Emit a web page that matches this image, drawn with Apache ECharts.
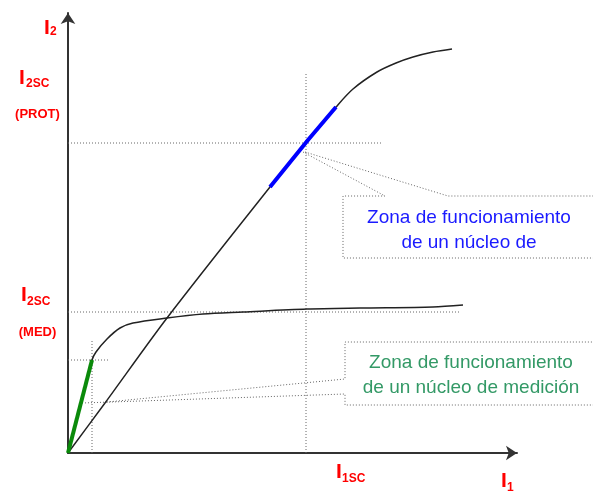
<!DOCTYPE html>
<html>
<head>
<meta charset="utf-8">
<script src="https://cdn.jsdelivr.net/npm/echarts@6/dist/echarts.min.js"></script>
<style>
  html, body { margin: 0; padding: 0; background: #fff; }
  #chart { width: 593px; height: 493px; }
</style>
</head>
<body>
<div id="chart"></div>
<script>
// curves (I1 horizontal, I2 vertical, arbitrary units)
const protCurve = [[0, 0], [37, 50], [99, 135], [202, 266], [240, 313], [268, 346],
  [285, 364], [309, 381], [328, 390], [345, 396], [365, 401], [384, 404]];
const protZone = [[202, 266], [240, 313], [268, 346]];
const measCurve = [[0, 0], [24, 93], [28, 101], [39, 114], [52, 125], [65, 130],
  [99, 135], [135, 139], [175, 141], [239, 144], [292, 145], [365, 146], [395, 148]];
const measZone = [[0, 0], [24, 93]];

// dotted guides
const guides = [
  [[0, 310], [315, 310]],
  [[238, 0], [238, 381]],
  [[0, 141], [392, 141]],
  [[0, 93], [40, 93]],
  [[24, 0], [24, 113]]
];
// callout boxes and leaders
const callouts = [
  [[235, 301], [317, 257], [275, 257], [275, 195], [525, 195]],
  [[237, 301], [380, 257], [525, 257]],
  [[39, 51], [277, 74], [277, 111], [525, 111]],
  [[14, 50], [277, 59], [277, 48], [525, 48]]
];

const protText = ['Zona de funcionamiento', 'de un núcleo de'];
const measText = ['Zona de funcionamiento', 'de un núcleo de medición'];

const chart = echarts.init(document.getElementById('chart'));

const dotted = { color: '#666', width: 1, type: [1, 2] };
const onPlot = { xAxisIndex: 1, yAxisIndex: 1, showSymbol: false, silent: true };
const series = [];
guides.concat(callouts).forEach(seg => {
  series.push(Object.assign({ type: 'line', data: seg, lineStyle: dotted }, onPlot));
});
series.push(Object.assign({ type: 'line', data: protCurve, smooth: 0.3,
  lineStyle: { color: '#222', width: 1.5 } }, onPlot));
series.push(Object.assign({ type: 'line', data: measCurve, smooth: 0.3,
  lineStyle: { color: '#222', width: 1.5 } }, onPlot));
series.push(Object.assign({ type: 'line', data: protZone,
  lineStyle: { color: '#0000ff', width: 4 } }, onPlot));
series.push(Object.assign({ type: 'line', data: measZone,
  lineStyle: { color: '#0a8a0a', width: 4 } }, onPlot));

const axisBase = {
  type: 'value', min: 0,
  axisLine: { show: true, symbol: ['none', 'arrow'], symbolSize: [11, 11],
    lineStyle: { color: '#333', width: 2 } },
  axisTick: { show: false }, axisLabel: { show: false }, splitLine: { show: false }
};
const hiddenAxis = { type: 'value', min: 0, show: false, gridIndex: 1 };

const red = '#ff0000';
const font = 'Liberation Sans, Arial, sans-serif';
function txt(x, y, s, size, color, align, weight) {
  return { type: 'text', x: x, y: y, silent: true,
    style: { text: s, fontSize: size, fontFamily: font, fontWeight: weight || 'bold',
      fill: color, align: align || 'left', verticalAlign: 'middle' } };
}

chart.setOption({
  animation: false,
  grid: [
    { left: 68, right: 76, top: 13, bottom: 40 },
    { left: 68, right: 0, top: 13, bottom: 40 }
  ],
  xAxis: [
    Object.assign({}, axisBase, { max: 449 }),
    Object.assign({}, hiddenAxis, { max: 525 })
  ],
  yAxis: [
    Object.assign({}, axisBase, { max: 440 }),
    Object.assign({}, hiddenAxis, { max: 440 })
  ],
  series: series,
  graphic: [
    txt(44, 28, 'I', 21, red), txt(50, 32, '2', 12, red),
    txt(19, 78, 'I', 21, red), txt(26, 84, '2SC', 12, red),
    txt(37.5, 114, '(PROT)', 13, red, 'center'),
    txt(21, 295, 'I', 21, red), txt(27, 302, '2SC', 12, red),
    txt(37.5, 332, '(MED)', 13, red, 'center'),
    txt(336, 472.5, 'I', 21, red), txt(342, 478.5, '1SC', 12, red),
    txt(501, 481.5, 'I', 21, red), txt(507, 488, '1', 12, red),
    txt(469, 218, protText[0], 19, '#1a1aff', 'center', 'normal'),
    txt(469, 243, protText[1], 19, '#1a1aff', 'center', 'normal'),
    txt(471, 363, measText[0], 19, '#339966', 'center', 'normal'),
    txt(471, 388, measText[1], 19, '#339966', 'center', 'normal')
  ]
});
</script>
</body>
</html>
